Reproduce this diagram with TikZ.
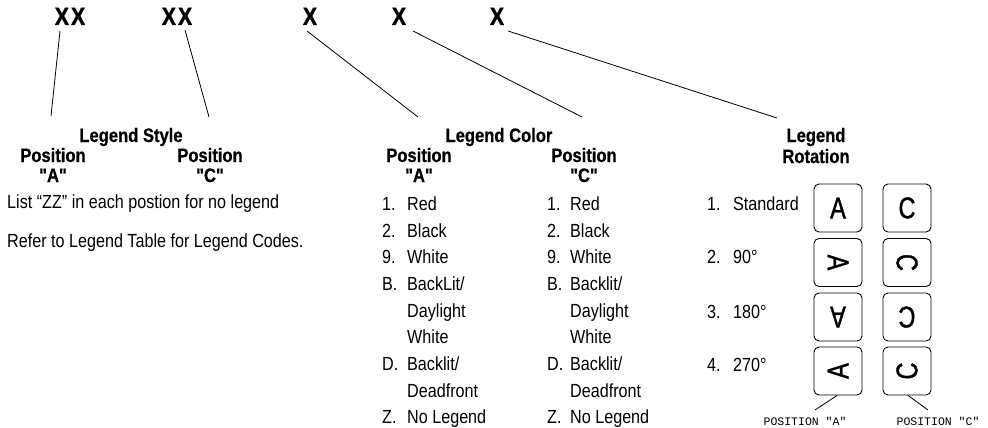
\documentclass[tikz,border=0pt]{standalone}
\usepackage{fontspec}
\newfontfamily\cond{Liberation Sans}[FakeStretch=0.85,BoldFeatures={FakeBold=0.6}]
\newfontfamily\heavy{Liberation Sans}[FakeStretch=0.85,BoldFeatures={FakeBold=1.4}]
\newfontfamily\keyf{Liberation Sans}[FakeStretch=0.78,FakeBold=1.2]
\newfontfamily\capf{Liberation Mono}
\begin{document}
\begin{tikzpicture}[x=1pt,y=-1pt,
  txt/.style={inner sep=0pt,anchor=base west,font=\cond\fontsize{19}{22}\selectfont},
  hd/.style={inner sep=0pt,anchor=base,font=\cond\fontsize{19.5}{22}\selectfont\bfseries},
  xx/.style={inner sep=0pt,anchor=base,font=\heavy\fontsize{25}{27}\selectfont\bfseries},
  lead/.style={line width=0.8pt},
  key/.style={draw,line width=0.9pt,rounded corners=5pt,minimum size=48pt,inner sep=0pt},
  keych/.style={inner sep=0pt,font=\keyf\fontsize{30}{32}\selectfont},
  capt/.style={inner sep=0pt,anchor=base,font=\capf\fontsize{11.5}{12}\selectfont}]
\useasboundingbox (0,0) rectangle (988,428);
% top code characters
\node[xx] (x1) at (70,25) {X\kern2ptX};
\node[xx] (x2) at (177,25) {X\kern2ptX};
\node[xx] (x3) at (310,25) {X};
\node[xx] (x4) at (399,25) {X};
\node[xx] (x5) at (497,25) {X};
% leader ends
\coordinate (s1) at (60,31);  \coordinate (e1) at (51,116);
\coordinate (s2) at (185,30); \coordinate (e2) at (209,117);
\coordinate (s3) at (307,31); \coordinate (e3) at (418,117);
\coordinate (s4) at (413,31); \coordinate (e4) at (582,117);
\coordinate (s5) at (508,31); \coordinate (e5) at (777,118);
\draw[lead] (s1) -- (e1);
\draw[lead] (s2) -- (e2);
\draw[lead] (s3) -- (e3);
\draw[lead] (s4) -- (e4);
\draw[lead] (s5) -- (e5);
% Legend style
\node[hd] (ls) at (131,142) {Legend Style};
\node[hd] (lsa) at (53,162) {Position};
\node[hd] (lsa2) at (53,182) {"A"};
\node[hd] (lsc) at (210,162) {Position};
\node[hd] (lsc2) at (210,182) {"C"};
\node[txt] (t1) at (7,208) {List “ZZ” in each postion for no legend};
\node[txt] (t2) at (7,247) {Refer to Legend Table for Legend Codes.};
% Legend color
\node[hd] (lc) at (499,142) {Legend Color};
\node[hd] (lca) at (419,162) {Position};
\node[hd] (lca2) at (419,182) {"A"};
\node[hd] (lcc) at (584,162) {Position};
\node[hd] (lcc2) at (584,182) {"C"};
\foreach \n/\y/\num/\lab in {1/210/1./Red, 2/237/2./Black, 3/263/9./White, 4/290/B./BackLit\slash, 5/317//Daylight, 6/343//White, 7/370/D./Backlit\slash, 8/397//Deadfront, 9/423/Z./No Legend}{
  \node[txt] (an\n) at (382,\y) {\num};
  \node[txt] (at\n) at (407,\y) {\lab};
}
\foreach \n/\y/\num/\lab in {1/210/1./Red, 2/237/2./Black, 3/263/9./White, 4/290/B./Backlit\slash, 5/317//Daylight, 6/343//White, 7/370/D./Backlit\slash, 8/397//Deadfront, 9/423/Z./No Legend}{
  \node[txt] (cn\n) at (547,\y) {\num};
  \node[txt] (ct\n) at (570,\y) {\lab};
}
% Legend rotation
\node[hd] (lr) at (816,142) {Legend};
\node[hd] (lr2) at (816,163) {Rotation};
\foreach \n/\y/\num/\lab in {1/210/1./Standard, 2/263/2./90°, 3/318/3./180°, 4/371/4./270°}{
  \node[txt] (rn\n) at (707,\y) {\num};
  \node[txt] (rt\n) at (733,\y) {\lab};
}
\foreach \n/\y/\r in {1/208/0, 2/262.5/-90, 3/317/180, 4/371/90}{
  \node[key] (ka\n) at (838,\y) {};
  \node[keych,rotate=\r] (la\n) at (ka\n.center) {A};
  \node[key] (kc\n) at (907,\y) {};
  \node[keych,rotate=\r] (lc\n) at (kc\n.center) {C};
}
\node[capt] (pa) at (805,425) {POSITION "A"};
\node[capt] (pc) at (938,425) {POSITION "C"};
\coordinate (pae) at (815,410);
\coordinate (pce) at (928,410);
\draw[lead] ([xshift=-1pt]ka4.south) -- (pae);
\draw[lead] ([xshift=1pt]kc4.south) -- (pce);
\end{tikzpicture}
\end{document}
